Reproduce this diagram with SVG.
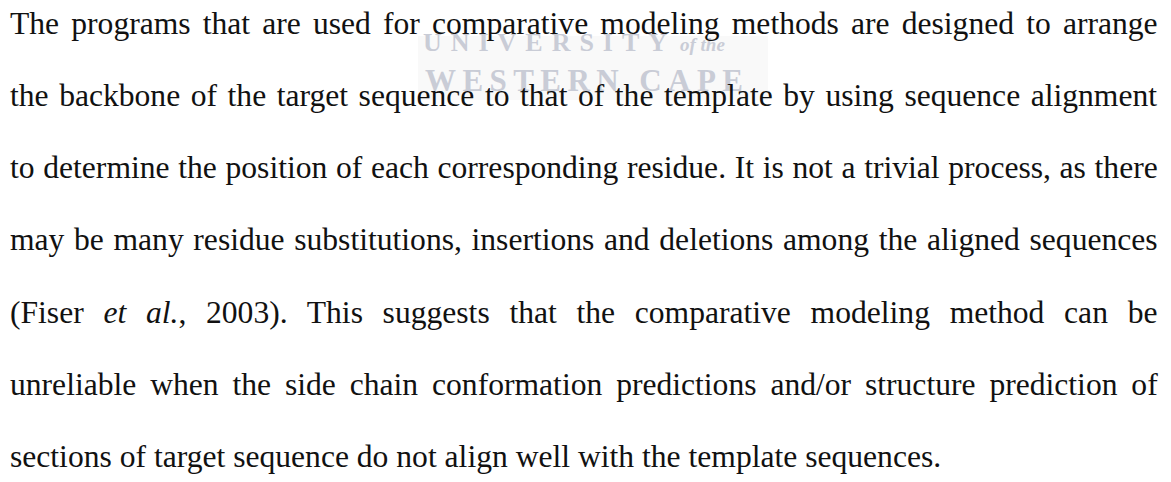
<svg xmlns="http://www.w3.org/2000/svg" width="1171" height="482" viewBox="0 0 1171 482">
<style>
.t{font-family:"Liberation Serif","Times New Roman",serif;font-size:31.6px;fill:#111;}
.i{font-style:italic;}
.wm{font-family:"Liberation Serif","Times New Roman",serif;font-weight:bold;fill:#c9ccd6;}
</style>
<rect width="1171" height="482" fill="#ffffff"/>
<rect x="418" y="36" width="350" height="64" fill="#f9f9f9"/>
<g id="watermark">
<text class="wm" x="423" y="51" font-size="26" textLength="244" lengthAdjust="spacing">UNIVERSITY</text>
<text class="wm" x="680" y="51" font-size="19" font-style="italic" font-weight="normal">of the</text>
<text class="wm" x="425" y="91" font-size="31" textLength="318" lengthAdjust="spacing">WESTERN CAPE</text>
</g>
<g id="paragraph">
<text class="t" x="10" y="33.5" word-spacing="4.25">The programs that are used for comparative modeling methods are designed to arrange</text>
<text class="t" x="10" y="105.8" word-spacing="2.64">the backbone of the target sequence to that of the template by using sequence alignment</text>
<text class="t" x="10" y="178.1" word-spacing="0.77">to determine the position of each corresponding residue. It is not a trivial process, as there</text>
<text class="t" x="10" y="250.4" word-spacing="1.75">may be many residue substitutions, insertions and deletions among the aligned sequences</text>
<text class="t" x="10" y="322.7" word-spacing="11.8">(Fiser <tspan class="i">et</tspan> <tspan class="i">al.</tspan>, 2003). This suggests that the comparative modeling method can be</text>
<text class="t" x="10" y="395" word-spacing="5.98">unreliable when the side chain conformation predictions and/or structure prediction of</text>
<text class="t" x="10" y="467.3">sections of target sequence do not align well with the template sequences.</text>
</g>
</svg>
